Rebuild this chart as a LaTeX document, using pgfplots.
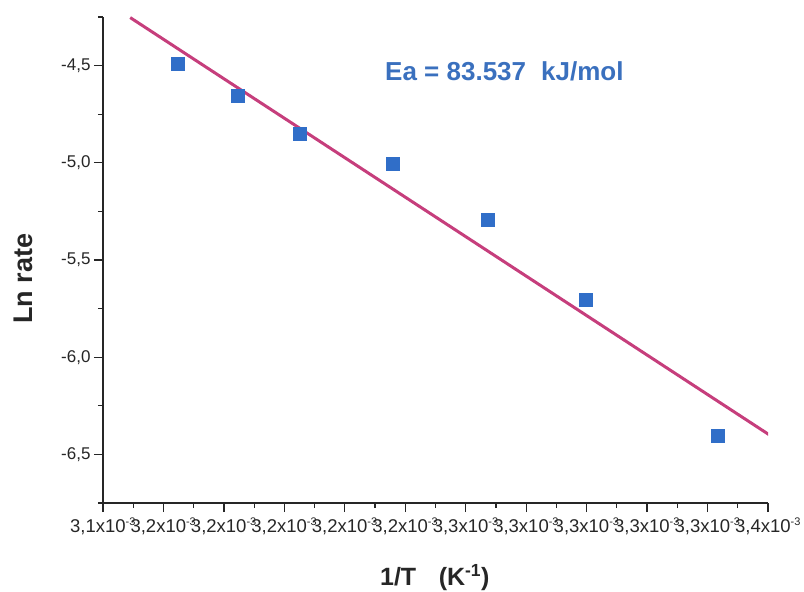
\documentclass[border=0pt]{standalone}
\usepackage{pgfplots}
\pgfplotsset{compat=1.18}
\usepackage{fontspec}
\setmainfont{Liberation Sans}
\definecolor{ptblue}{RGB}{48,110,200}
\definecolor{txtblue}{RGB}{58,112,190}
\definecolor{fitline}{RGB}{198,62,124}
\newcommand{\xl}[1]{3,#1x10\textsuperscript{\fontsize{11}{11}\selectfont -3}}
\begin{document}
\begin{tikzpicture}[x=1pt,y=1pt]
\path[use as bounding box] (0,0) rectangle (804,592);
\begin{axis}[
  at={(103pt,89pt)}, anchor=south west,
  scale only axis, width=665pt, height=486pt,
  xmin=3.14, xmax=3.36, ymin=-6.75, ymax=-4.25,
  axis x line=bottom, axis y line=left,
  axis line style={-, line width=1.3pt, black!85},
  tick align=outside,
  major tick length=9pt, minor tick length=5pt,
  every tick/.style={black!85, line width=1.2pt},
  xtick={3.14,3.16,3.18,3.20,3.22,3.24,3.26,3.28,3.30,3.32,3.34,3.36},
  xticklabels={{\xl{1}},{\xl{2}},{\xl{2}},{\xl{2}},{\xl{2}},{\xl{2}},{\xl{3}},{\xl{3}},{\xl{3}},{\xl{3}},{\xl{3}},{\xl{4}}},
  minor xtick={3.15,3.17,3.19,3.21,3.23,3.25,3.27,3.29,3.31,3.33,3.35},
  ytick={-6.5,-6.0,-5.5,-5.0,-4.5},
  yticklabels={{-6,5},{-6,0},{-5,5},{-5,0},{-4,5}},
  minor ytick={-6.75,-6.25,-5.75,-5.25,-4.75,-4.25},
  xticklabel style={font=\fontsize{18.5}{18.5}\selectfont, text=black!85, inner sep=1pt, yshift=-5pt},
  yticklabel style={font=\fontsize{17}{17}\selectfont, text=black!85},
  xlabel={\textbf{1/T\hspace{0.9em}(K\textsuperscript{-1})}},
  xlabel style={font=\fontsize{25}{25}\selectfont, at={(axis description cs:0.499,-0.154)}, anchor=center, text=black!85},
  ylabel={\textbf{Ln rate}},
  ylabel style={font=\fontsize{27}{27}\selectfont, at={(axis description cs:-0.120,0.461)}, anchor=center, text=black!85},
]
\addplot[no marks, color=fitline, line width=3pt] coordinates {(3.1490,-4.253) (3.3605,-6.400)};
\addplot[only marks, mark=square*, mark size=6.5pt, color=ptblue] coordinates {
(3.1646,-4.492) (3.1846,-4.656) (3.2050,-4.852) (3.2359,-5.006) (3.2674,-5.294) (3.2996,-5.706) (3.3432,-6.404)};
\end{axis}
\node[anchor=west, text=txtblue, font=\fontsize{26}{26}\selectfont\bfseries, inner sep=0pt] at (385,521) {Ea = 83.537\hspace{0.3em} kJ/mol};
\end{tikzpicture}
\end{document}
